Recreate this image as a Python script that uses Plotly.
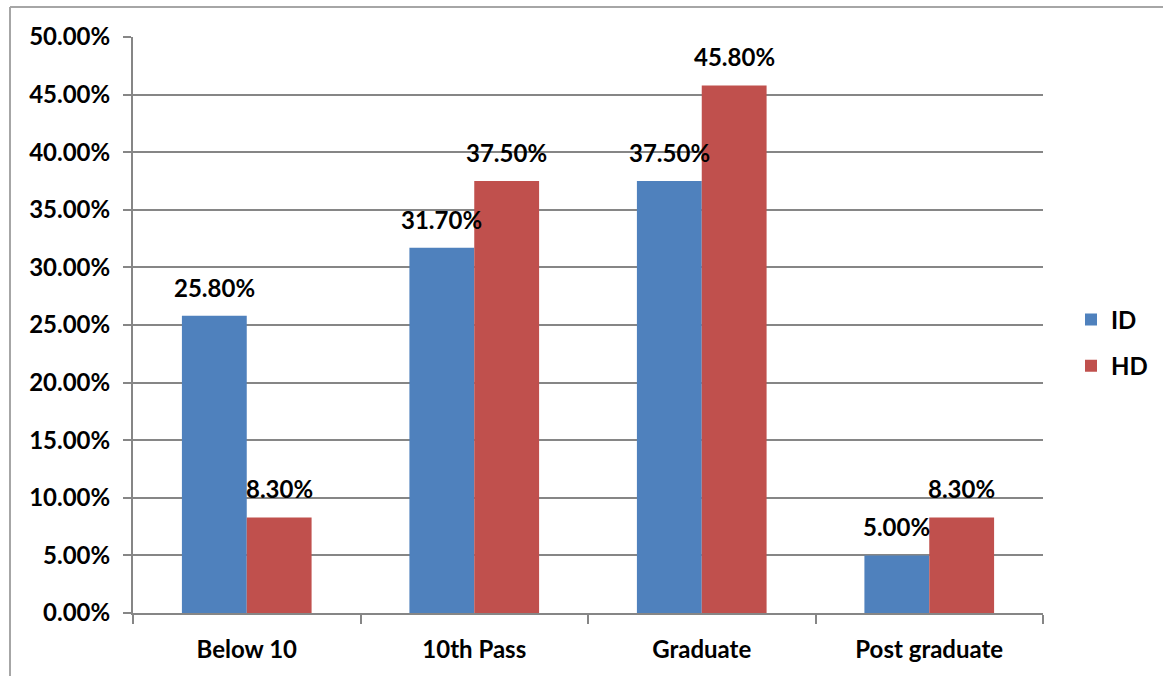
import plotly.graph_objects as go

categories = ["Below 10", "10th Pass", "Graduate", "Post graduate"]
id_values = [0.258, 0.317, 0.375, 0.05]
hd_values = [0.083, 0.375, 0.458, 0.083]
series_names = ["ID", "HD"]
series_colors = ["#4F81BD", "#C0504D"]

FONT = "Lato"
FSIZE = 24
W, H = 1163, 676
L, R, T, B = 133, 120, 37, 63
plot_w = W - L - R
plot_h = H - T - B

fig = go.Figure()
for name, vals, col in zip(series_names, [id_values, hd_values], series_colors):
    fig.add_trace(go.Bar(
        x=categories, y=vals, name=name, marker=dict(color=col, line=dict(width=0)),
        legendgroup=name,
    ))

# value labels above each bar
bar_px = 65
for vals, shift in [(id_values, -bar_px / 2), (hd_values, bar_px / 2)]:
    for c, v in zip(categories, vals):
        fig.add_annotation(
            x=c, y=v, xref="x", yref="y", text=f"{v*100:.2f}%",
            showarrow=False, xshift=shift, yshift=12, yanchor="bottom",
            font=dict(family=FONT, size=FSIZE, color="black", weight="bold"),
        )

# outer chart border (top and left edges visible)
x0 = (10 - L) / plot_w
y1 = (H - B - 7) / plot_h
fig.add_shape(type="line", xref="paper", yref="paper", x0=x0, x1=1.3, y0=y1, y1=y1,
              line=dict(color="#A6A6A6", width=2), layer="below")
fig.add_shape(type="line", xref="paper", yref="paper", x0=x0, x1=x0, y0=-0.2, y1=y1,
              line=dict(color="#A6A6A6", width=2), layer="below")

fig.update_layout(
    width=W, height=H,
    margin=dict(l=L, r=R, t=T, b=B, pad=0, autoexpand=False),
    paper_bgcolor="white", plot_bgcolor="white",
    barmode="group", bargap=0.43, bargroupgap=0,
    font=dict(family=FONT, size=FSIZE, color="black", weight="bold"),
    showlegend=True,
    legend=dict(x=(1071 - L) / plot_w, y=(H - B - 343) / plot_h, xanchor="left", yanchor="middle",
                font=dict(family=FONT, size=FSIZE, color="black", weight="bold"),
                tracegroupgap=12, itemwidth=30, bgcolor="rgba(0,0,0,0)"),
    xaxis=dict(
        showgrid=False, showline=True, linecolor="#868686", linewidth=2,
        ticks="outside", ticklen=9, tickcolor="#868686", tickwidth=2,
        tickson="boundaries", tickfont=dict(family=FONT, size=FSIZE, weight="bold"),
        ticklabelstandoff=14,
    ),
    yaxis=dict(
        range=[0, 0.5], dtick=0.05, tickformat=".2%",
        showgrid=True, gridcolor="#868686", gridwidth=2,
        showline=True, linecolor="#868686", linewidth=2,
        ticks="outside", ticklen=8, tickcolor="#868686", tickwidth=2,
        zeroline=False, tickfont=dict(family=FONT, size=FSIZE, weight="bold"),
        ticklabelstandoff=8,
    ),
)

fig.write_html("out.html")
